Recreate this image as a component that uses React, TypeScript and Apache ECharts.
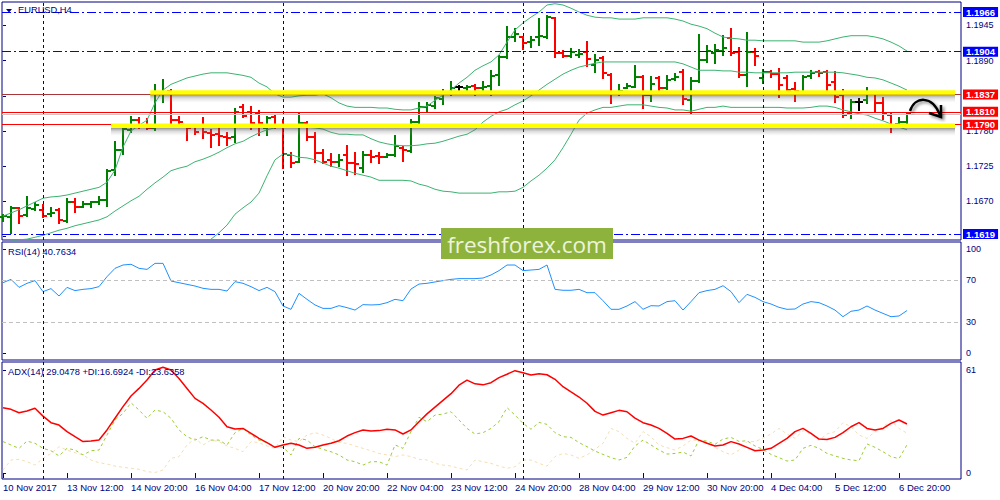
import React, { useEffect, useRef } from "react";
import * as echarts from "echarts";

// ---------- texts ----------
const SYMBOL_TITLE = "EURUSD,H4";
const RSI_TITLE = "RSI(14) 40.7634";
const ADX_TITLE = "ADX(14) 29.0478 +DI:16.6924 -DI:23.6358";
const WATERMARK = "freshforex.com";

// ---------- time axis (bar index -> label) ----------
const TIME_TICKS = [0, 8, 16, 24, 32, 40, 48, 56, 64, 72, 80, 88, 96, 104, 112];
const TIME_LABELS = [
  "10 Nov 2017", "13 Nov 12:00", "14 Nov 20:00", "16 Nov 04:00", "17 Nov 12:00",
  "20 Nov 20:00", "22 Nov 04:00", "23 Nov 12:00", "24 Nov 20:00", "28 Nov 04:00",
  "29 Nov 12:00", "30 Nov 20:00", "4 Dec 04:00", "5 Dec 12:00", "6 Dec 20:00",
];
const SEPARATORS = [5, 35, 65, 95];

// ---------- price bars (H4 OHLC) ----------
const OPEN = [
  1.16456, 1.16456, 1.16597, 1.16488, 1.16581, 1.16566, 1.16503, 1.16566, 1.16394, 1.16691,
  1.16613, 1.16660, 1.16691, 1.16722, 1.17191, 1.17504, 1.17816, 1.17972, 1.17894, 1.17847,
  1.18379, 1.18426, 1.17972, 1.17863, 1.17863, 1.17863, 1.17769, 1.17754, 1.17707, 1.17707,
  1.18175, 1.18097, 1.18082, 1.17847, 1.18019, 1.17894, 1.17426, 1.17316, 1.17925, 1.17707,
  1.17457, 1.17347, 1.17316, 1.17426, 1.17301, 1.17222, 1.17426, 1.17410, 1.17394, 1.17426,
  1.17535, 1.17488, 1.17941, 1.18175, 1.18191, 1.18301, 1.18394, 1.18488, 1.18473, 1.18504,
  1.18473, 1.18504, 1.18676, 1.18957, 1.19270, 1.19270, 1.19192, 1.19270, 1.19270, 1.19567,
  1.19020, 1.18973, 1.18988, 1.19035, 1.18832, 1.18942, 1.18676, 1.18394, 1.18473, 1.18488,
  1.18644, 1.18363, 1.18629, 1.18473, 1.18613, 1.18723, 1.18285, 1.18582, 1.18910, 1.19020,
  1.19051, 1.19254, 1.19035, 1.18676, 1.19035, 1.18629, 1.18723, 1.18691, 1.18629, 1.18457,
  1.18410, 1.18660, 1.18723, 1.18723, 1.18566, 1.18363, 1.18066, 1.18254, 1.18285, 1.18394,
  1.18238, 1.18050, 1.17910, 1.17941,
];
const HIGH = [
  1.16488, 1.16613, 1.16597, 1.16769, 1.16675, 1.16644, 1.16597, 1.16581, 1.16738, 1.16738,
  1.16691, 1.16691, 1.16769, 1.17191, 1.17629, 1.17847, 1.18019, 1.18004, 1.17988, 1.18519,
  1.18598, 1.18441, 1.18019, 1.17894, 1.17879, 1.18004, 1.17816, 1.17832, 1.17769, 1.18144,
  1.18207, 1.18175, 1.18113, 1.18019, 1.18050, 1.17972, 1.17457, 1.18082, 1.17941, 1.17769,
  1.17504, 1.17441, 1.17426, 1.17566, 1.17457, 1.17472, 1.17488, 1.17457, 1.17441, 1.17722,
  1.17550, 1.17972, 1.18238, 1.18238, 1.18332, 1.18441, 1.18566, 1.18504, 1.18504, 1.18519,
  1.18566, 1.18738, 1.18973, 1.19426, 1.19395, 1.19270, 1.19270, 1.19551, 1.19597, 1.19567,
  1.19051, 1.19082, 1.19067, 1.19192, 1.18988, 1.18957, 1.18691, 1.18519, 1.18535, 1.18816,
  1.18660, 1.18644, 1.18644, 1.18660, 1.18691, 1.18754, 1.18629, 1.19301, 1.19129, 1.19145,
  1.19285, 1.19395, 1.19098, 1.19332, 1.19082, 1.18754, 1.18738, 1.18770, 1.18660, 1.18551,
  1.18660, 1.18738, 1.18738, 1.18738, 1.18723, 1.18441, 1.18285, 1.18301, 1.18473, 1.18410,
  1.18316, 1.18066, 1.18004, 1.18082,
];
const LOW = [
  1.16394, 1.16206, 1.16362, 1.16472, 1.16566, 1.16456, 1.16472, 1.16362, 1.16378, 1.16535,
  1.16613, 1.16613, 1.16660, 1.16628, 1.17113, 1.17441, 1.17785, 1.17847, 1.17832, 1.17816,
  1.18254, 1.17894, 1.17863, 1.17660, 1.17754, 1.17691, 1.17550, 1.17582, 1.17582, 1.17629,
  1.18019, 1.17832, 1.17738, 1.17738, 1.17847, 1.17222, 1.17238, 1.17316, 1.17660, 1.17316,
  1.17301, 1.17254, 1.17254, 1.17113, 1.17128, 1.17160, 1.17316, 1.17301, 1.17394, 1.17410,
  1.17332, 1.17472, 1.17925, 1.18097, 1.18160, 1.18222, 1.18363, 1.18379, 1.18426, 1.18363,
  1.18410, 1.18363, 1.18519, 1.18942, 1.19207, 1.19082, 1.19113, 1.19145, 1.19254, 1.18957,
  1.18957, 1.18957, 1.18957, 1.18816, 1.18723, 1.18629, 1.18238, 1.18363, 1.18473, 1.18488,
  1.18160, 1.18269, 1.18426, 1.18457, 1.18598, 1.18222, 1.18082, 1.18566, 1.18879, 1.18863,
  1.18988, 1.18988, 1.18644, 1.18504, 1.18832, 1.18551, 1.18644, 1.18332, 1.18394, 1.18269,
  1.18394, 1.18629, 1.18660, 1.18394, 1.18254, 1.18019, 1.18004, 1.18129, 1.18238, 1.18097,
  1.17988, 1.17785, 1.17879, 1.17925,
];
const CLOSE = [
  1.16472, 1.16597, 1.16472, 1.16597, 1.16644, 1.16472, 1.16519, 1.16409, 1.16691, 1.16613,
  1.16660, 1.16691, 1.16722, 1.17175, 1.17504, 1.17832, 1.17972, 1.17863, 1.17847, 1.18394,
  1.18410, 1.17972, 1.17941, 1.17847, 1.17785, 1.17785, 1.17738, 1.17722, 1.17691, 1.18097,
  1.18035, 1.17925, 1.17925, 1.18004, 1.17894, 1.17441, 1.17301, 1.17925, 1.17707, 1.17457,
  1.17316, 1.17316, 1.17347, 1.17301, 1.17285, 1.17426, 1.17394, 1.17394, 1.17426, 1.17566,
  1.17504, 1.17941, 1.18175, 1.18207, 1.18316, 1.18410, 1.18473, 1.18488, 1.18488, 1.18473,
  1.18488, 1.18660, 1.18957, 1.19270, 1.19317, 1.19176, 1.19223, 1.19285, 1.19582, 1.19020,
  1.18973, 1.19035, 1.19004, 1.18926, 1.18910, 1.18707, 1.18410, 1.18426, 1.18504, 1.18644,
  1.18363, 1.18535, 1.18473, 1.18598, 1.18644, 1.18301, 1.18582, 1.18910, 1.19051, 1.19067,
  1.19098, 1.19020, 1.18676, 1.19035, 1.18973, 1.18723, 1.18691, 1.18519, 1.18441, 1.18426,
  1.18644, 1.18707, 1.18707, 1.18519, 1.18332, 1.18050, 1.18254, 1.18254, 1.18394, 1.18238,
  1.18066, 1.17894, 1.17941, 1.18066,
];

// ---------- Bollinger Bands ----------
const BB_UPPER = [
  1.1647, 1.1652, 1.1657, 1.1663, 1.1669, 1.1675, 1.1677, 1.1678, 1.1680, 1.1683,
  1.1686, 1.1689, 1.1692, 1.1700, 1.1719, 1.1755, 1.1780, 1.1789, 1.1797, 1.1824,
  1.1844, 1.1853, 1.1858, 1.1863, 1.1866, 1.1869, 1.1871, 1.1871, 1.1871, 1.1869,
  1.1867, 1.1864, 1.1855, 1.1849, 1.1838, 1.1833, 1.1833, 1.1835, 1.1836, 1.1836,
  1.1838, 1.1832, 1.1824, 1.1819, 1.1817, 1.1817, 1.1817, 1.1816, 1.1816, 1.1814,
  1.1813, 1.1813, 1.1816, 1.1819, 1.1828, 1.1836, 1.1844, 1.1855, 1.1864, 1.1875,
  1.1882, 1.1888, 1.1899, 1.1919, 1.1938, 1.1949, 1.1958, 1.1966, 1.1977, 1.1979,
  1.1977, 1.1972, 1.1966, 1.1961, 1.1958, 1.1957, 1.1957, 1.1955, 1.1955, 1.1955,
  1.1957, 1.1957, 1.1957, 1.1957, 1.1955, 1.1952, 1.1947, 1.1944, 1.1940, 1.1933,
  1.1927, 1.1925, 1.1924, 1.1922, 1.1922, 1.1921, 1.1921, 1.1921, 1.1921, 1.1921,
  1.1919, 1.1919, 1.1919, 1.1921, 1.1924, 1.1927, 1.1929, 1.1929, 1.1929, 1.1927,
  1.1924, 1.1919, 1.1913, 1.1905,
];
const BB_MIDDLE = [
  1.1605, 1.1608, 1.1610, 1.1611, 1.1614, 1.1617, 1.1621, 1.1625, 1.1628, 1.1632,
  1.1635, 1.1638, 1.1641, 1.1646, 1.1655, 1.1663, 1.1671, 1.1678, 1.1689, 1.1699,
  1.1708, 1.1718, 1.1722, 1.1725, 1.1732, 1.1736, 1.1741, 1.1747, 1.1754, 1.1760,
  1.1764, 1.1771, 1.1777, 1.1782, 1.1785, 1.1788, 1.1788, 1.1788, 1.1786, 1.1785,
  1.1783, 1.1778, 1.1775, 1.1775, 1.1774, 1.1774, 1.1768, 1.1763, 1.1760, 1.1758,
  1.1757, 1.1757, 1.1758, 1.1760, 1.1761, 1.1764, 1.1768, 1.1772, 1.1775, 1.1782,
  1.1794, 1.1803, 1.1810, 1.1814, 1.1821, 1.1827, 1.1835, 1.1844, 1.1853, 1.1861,
  1.1869, 1.1875, 1.1880, 1.1883, 1.1886, 1.1888, 1.1888, 1.1888, 1.1888, 1.1888,
  1.1888, 1.1888, 1.1888, 1.1888, 1.1888, 1.1885, 1.1880, 1.1875, 1.1875, 1.1875,
  1.1874, 1.1874, 1.1872, 1.1872, 1.1871, 1.1871, 1.1871, 1.1871, 1.1871, 1.1872,
  1.1872, 1.1872, 1.1872, 1.1872, 1.1872, 1.1871, 1.1869, 1.1867, 1.1864, 1.1863,
  1.1860, 1.1855, 1.1850, 1.1844,
];
const BB_LOWER = [
  null, null, null, null, null, null, null, null, null, null,
  null, null, null, null, null, null, null, null, null, null,
  null, null, null, null, 1.1591, 1.1600, 1.1611, 1.1621, 1.1633, 1.1650,
  1.1660, 1.1669, 1.1683, 1.1710, 1.1735, 1.1744, 1.1743, 1.1739, 1.1738, 1.1735,
  1.1730, 1.1725, 1.1722, 1.1718, 1.1714, 1.1711, 1.1708, 1.1703, 1.1703, 1.1703,
  1.1703, 1.1702, 1.1697, 1.1694, 1.1689, 1.1686, 1.1685, 1.1683, 1.1683, 1.1683,
  1.1683, 1.1683, 1.1685, 1.1685, 1.1686, 1.1692, 1.1702, 1.1711, 1.1722, 1.1735,
  1.1754, 1.1775, 1.1797, 1.1808, 1.1813, 1.1817, 1.1817, 1.1819, 1.1821, 1.1821,
  1.1821, 1.1819, 1.1817, 1.1816, 1.1813, 1.1813, 1.1811, 1.1814, 1.1817, 1.1817,
  1.1819, 1.1817, 1.1817, 1.1817, 1.1817, 1.1817, 1.1817, 1.1817, 1.1816, 1.1816,
  1.1816, 1.1817, 1.1819, 1.1819, 1.1817, 1.1813, 1.1810, 1.1807, 1.1805, 1.1800,
  1.1796, 1.1791, 1.1786, 1.1782,
];

// ---------- RSI(14) ----------
const RSI = [
  67.6, 70.8, 63.1, 67.0, 69.6, 59.0, 61.9, 54.8, 63.1, 60.0,
  61.2, 61.9, 63.8, 73.4, 81.4, 84.6, 85.3, 81.4, 80.4, 86.2,
  86.2, 69.2, 67.6, 66.0, 64.4, 62.2, 61.2, 61.2, 59.6, 68.6,
  67.0, 63.8, 60.0, 63.1, 59.0, 45.2, 42.0, 57.4, 51.6, 46.2,
  42.9, 42.9, 45.5, 43.6, 41.3, 46.5, 46.2, 46.5, 48.4, 51.6,
  50.3, 61.5, 66.3, 67.0, 68.3, 69.6, 70.8, 71.5, 71.5, 71.5,
  72.1, 75.0, 79.2, 84.6, 84.6, 79.2, 79.8, 80.4, 84.6, 61.2,
  60.3, 60.3, 61.2, 58.0, 58.0, 50.3, 42.0, 42.0, 45.2, 49.4,
  42.0, 45.5, 45.2, 49.4, 50.3, 41.3, 49.4, 58.0, 60.0, 61.2,
  64.7, 59.0, 48.4, 56.4, 53.5, 49.4, 47.1, 43.9, 42.0, 42.3,
  47.1, 49.4, 48.4, 45.2, 41.3, 34.9, 40.1, 41.3, 45.2, 41.3,
  38.1, 34.9, 35.6, 40.8,
];

// ---------- ADX(14) ----------
const ADX = [
  38.7, 37.7, 35.7, 36.7, 38.3, 33.7, 29.8, 28.4, 24.5, 21.5,
  18.6, 18.9, 19.5, 25.5, 32.4, 39.3, 45.6, 50.1, 55.1, 61.0,
  62.6, 61.0, 56.0, 50.1, 44.2, 41.2, 37.3, 33.0, 27.4, 26.1,
  26.4, 23.5, 20.5, 18.0, 15.2, 16.6, 17.6, 16.6, 14.6, 15.2,
  16.6, 17.6, 19.1, 21.9, 23.9, 25.5, 24.9, 25.1, 25.9, 25.5,
  23.1, 25.5, 30.4, 35.0, 39.0, 43.0, 47.0, 52.0, 55.0, 52.8,
  52.2, 53.5, 56.5, 58.5, 60.6, 59.4, 58.0, 58.8, 58.2, 55.5,
  51.1, 48.0, 45.0, 41.3, 36.5, 34.3, 35.7, 37.1, 36.3, 32.5,
  29.8, 28.4, 26.4, 23.5, 20.1, 20.5, 21.9, 19.5, 17.6, 16.0,
  16.6, 18.6, 17.2, 15.2, 13.2, 13.6, 14.6, 17.6, 20.5, 24.5,
  26.4, 23.5, 20.1, 19.9, 21.1, 23.9, 27.4, 29.8, 26.4, 25.5,
  26.4, 29.4, 31.4, 29.0,
];
const PLUS_DI = [
  18.6, 16.6, 14.6, 18.9, 17.6, 14.6, 13.2, 10.1, 14.6, 13.6,
  10.7, 13.2, 13.6, 22.5, 31.4, 35.3, 41.6, 37.3, 32.4, 37.3,
  36.3, 32.4, 25.5, 21.5, 19.5, 21.5, 19.5, 19.5, 16.6, 23.9,
  26.4, 22.5, 19.5, 18.0, 15.6, 15.2, 10.7, 20.5, 19.5, 15.6,
  14.0, 12.6, 10.7, 7.7, 6.7, 4.7, 6.7, 6.7, 4.7, 16.6,
  14.6, 24.5, 33.0, 30.4, 34.3, 34.9, 36.3, 31.4, 26.4, 23.1,
  23.9, 26.4, 30.4, 38.7, 34.3, 29.4, 25.9, 30.0, 28.8, 23.9,
  21.5, 21.1, 18.0, 15.6, 13.0, 11.0, 9.1, 7.7, 9.3, 16.0,
  19.5, 16.6, 13.6, 11.2, 11.6, 12.4, 10.1, 19.5, 18.9, 17.0,
  20.1, 21.1, 18.7, 19.1, 16.0, 14.0, 11.0, 9.1, 7.1, 7.7,
  14.6, 16.4, 14.6, 11.6, 10.1, 8.7, 7.7, 7.3, 17.2, 15.2,
  12.6, 9.7, 8.5, 16.7,
];
const MINUS_DI = [
  1.8, 7.7, 8.1, 6.7, 4.7, 8.7, 11.6, 15.6, 13.6, 12.0,
  10.7, 7.7, 6.1, 5.3, 4.1, 3.4, 2.8, 2.2, 0.8, 0.3,
  1.8, 8.7, 9.7, 16.6, 20.5, 16.6, 19.5, 18.6, 16.0, 14.6,
  12.6, 18.6, 18.0, 16.0, 14.6, 21.5, 19.5, 18.6, 22.5, 23.9,
  22.5, 20.5, 18.0, 17.6, 16.0, 14.6, 13.2, 11.6, 10.7, 9.7,
  10.7, 9.7, 8.1, 7.7, 5.7, 4.7, 4.1, 2.8, 1.8, 7.7,
  6.7, 5.7, 4.1, 2.8, 3.7, 7.7, 7.7, 5.7, 4.1, 9.7,
  11.6, 10.7, 8.7, 10.7, 14.0, 17.6, 26.4, 24.5, 20.5, 17.6,
  24.5, 21.5, 16.6, 15.0, 13.6, 16.0, 19.5, 19.5, 18.0, 15.2,
  12.6, 10.7, 13.6, 18.6, 18.6, 20.7, 23.1, 26.4, 23.1, 20.5,
  25.1, 23.1, 19.5, 23.1, 24.5, 29.8, 27.4, 22.5, 20.5, 24.5,
  27.4, 31.0, 26.4, 23.6,
];

// ---------- axes / levels ----------
const PRICE_TICKS = [1.1615, 1.167, 1.1725, 1.178, 1.1835, 1.189, 1.1945];
const PRICE_LABELS = [1.167, 1.1725, 1.178, 1.189, 1.1945]; // 1.1615 / 1.1835 hidden under level boxes
const RSI_TICKS = [0, 30, 70, 100];
const RSI_LEVELS = [30, 70];
const ADX_TICKS = [0, 61];
const BLUE_LEVELS = [1.1966, 1.1904, 1.1619];
const RED_LEVELS = [1.1837, 1.181, 1.179];
const BID_LEVEL = 1.1806;
const ZONE_PRICES = [1.184, 1.1788];
const ZONE_STARTS = [18.4, 13.5];
const ZONE_END = 119;

const PRICE_MIN = 1.16097;
const PRICE_MAX = 1.19817;
const RSI_MIN = -6.73;
const RSI_MAX = 106.73;
const ADX_MIN = -3.55;
const ADX_MAX = 65.74;
const X_MIN = -0.125;
const X_MAX = 119.75;

const NAVY = "#000080";
const FONT = "'Liberation Sans', Arial, sans-serif";

const pairs = (arr: (number | null)[]) =>
  arr.map((v, i) => [i, v]).filter((p) => p[1] !== null);

export default function App() {
  const ref = useRef<HTMLDivElement>(null);

  useEffect(() => {
    if (!ref.current) return;
    const chart = echarts.init(ref.current, undefined, { renderer: "svg" });

    const sepLine = {
      silent: true,
      symbol: ["none", "none"],
      precision: 6,
      label: { show: false },
      lineStyle: { color: NAVY, type: [3, 3], width: 1 },
      data: SEPARATORS.map((x) => ({ xAxis: x })),
    };

    const ohlcData = OPEN.map((o, i) => [i, o, HIGH[i], LOW[i], CLOSE[i]]);
    const closePairs = pairs(CLOSE);
    const zoneData = ZONE_PRICES.map((p, k) => [ZONE_STARTS[k], ZONE_END, p]);

    const boxLabel = (v: number, bg: string) => ({
      show: true,
      position: "end",
      distance: 2,
      formatter: v.toFixed(4),
      backgroundColor: bg,
      color: "#ffffff",
      fontFamily: FONT,
      fontSize: 9.5,
      fontWeight: "bold",
      lineHeight: 9,
      padding: [1, 3, 0, 3],
    });

    // invisible carrier series (close prices) that hold the drawn levels
    const carrier = (name: string, z: number, markLine: any) => ({
      type: "line",
      name,
      xAxisIndex: 0,
      yAxisIndex: 0,
      z,
      silent: true,
      data: closePairs,
      showSymbol: false,
      lineStyle: { opacity: 0 },
      markLine: { silent: true, symbol: ["none", "none"], precision: 6, ...markLine },
    });

    const xAxes = [0, 1, 2].map((g) => ({
      type: "value",
      gridIndex: g,
      min: X_MIN,
      max: X_MAX,
      axisLine: { show: false },
      splitLine: { show: false },
      axisTick: {
        show: g === 2,
        customValues: TIME_TICKS,
        length: 5,
        lineStyle: { color: NAVY },
      },
      axisLabel: {
        show: g === 2,
        customValues: TIME_TICKS,
        formatter: (v: number) => {
          const k = TIME_TICKS.indexOf(Math.round(v));
          return k >= 0 ? TIME_LABELS[k] : "";
        },
        align: "left",
        margin: 3,
        color: NAVY,
        fontSize: 9.5,
        fontFamily: FONT,
      },
    }));

    const yAxis = (
      g: number,
      min: number,
      max: number,
      ticks: number[],
      labels: number[],
      fmt: (v: number) => string,
    ) => ({
      type: "value",
      gridIndex: g,
      position: "right",
      min,
      max,
      axisLine: { show: false },
      splitLine: { show: false },
      axisTick: { show: true, customValues: ticks, length: 3, lineStyle: { color: NAVY } },
      axisLabel: {
        customValues: labels,
        formatter: fmt,
        margin: 5,
        color: NAVY,
        fontSize: 9,
        fontFamily: FONT,
      },
    });

    const option: any = {
      animation: false,
      backgroundColor: "#ffffff",
      grid: [
        { left: 2, top: 2, width: 959, height: 238, show: true, borderColor: NAVY, borderWidth: 1, backgroundColor: "#ffffff" },
        { left: 2, top: 242, width: 959, height: 118, show: true, borderColor: NAVY, borderWidth: 1, backgroundColor: "#ffffff" },
        { left: 2, top: 362, width: 959, height: 117, show: true, borderColor: NAVY, borderWidth: 1, backgroundColor: "#ffffff" },
      ],
      xAxis: xAxes,
      yAxis: [
        yAxis(0, PRICE_MIN, PRICE_MAX, PRICE_TICKS, PRICE_LABELS, (v) => v.toFixed(4)),
        yAxis(1, RSI_MIN, RSI_MAX, RSI_TICKS, RSI_TICKS, (v) => String(Math.round(v))),
        yAxis(2, ADX_MIN, ADX_MAX, ADX_TICKS, ADX_TICKS, (v) => String(Math.round(v))),
      ],
      series: [
        // OHLC bars
        {
          type: "custom",
          name: "EURUSD",
          xAxisIndex: 0,
          yAxisIndex: 0,
          z: 3,
          data: ohlcData,
          encode: { x: 0, y: [1, 2, 3, 4] },
          renderItem: (params: any, api: any) => {
            const x = api.value(0);
            const o = api.value(1);
            const h = api.value(2);
            const l = api.value(3);
            const c = api.value(4);
            const pH = api.coord([x, h]);
            const pL = api.coord([x, l]);
            const pO = api.coord([x, o]);
            const pC = api.coord([x, c]);
            const color = c > o ? "#008000" : c < o ? "#ff0000" : "#000000";
            const st = { stroke: color, lineWidth: 2 };
            return {
              type: "group",
              children: [
                { type: "line", shape: { x1: pH[0], y1: pH[1] - 1, x2: pL[0], y2: pL[1] + 1 }, style: st },
                { type: "line", shape: { x1: pO[0] - 4, y1: pO[1], x2: pO[0], y2: pO[1] }, style: st },
                { type: "line", shape: { x1: pC[0], y1: pC[1], x2: pC[0] + 4, y2: pC[1] }, style: st },
              ],
            };
          },
          markLine: sepLine,
        },
        // Bollinger bands
        ...[BB_UPPER, BB_MIDDLE, BB_LOWER].map((arr, k) => ({
          type: "line",
          name: ["BB upper", "BB middle", "BB lower"][k],
          xAxisIndex: 0,
          yAxisIndex: 0,
          z: 4,
          data: pairs(arr),
          showSymbol: false,
          clip: true,
          lineStyle: { color: "#3cb371", width: 1 },
        })),
        carrier("bid", 4, {
          label: { show: false },
          lineStyle: { color: "#c8c8c8", type: "solid", width: 1 },
          data: [{ yAxis: BID_LEVEL }],
        }),
        carrier("blue levels", 5, {
          lineStyle: { color: "#0000ff", type: [9, 3, 2, 3], width: 1 },
          data: BLUE_LEVELS.map((v) => ({
            yAxis: v,
            lineStyle: { color: "#0000ff", type: [9, 3, 2, 3], width: 1 },
            label: boxLabel(v, "#0000ff"),
          })),
        }),
        carrier("red levels", 5, {
          lineStyle: { color: "#ff0000", type: "solid", width: 1 },
          data: RED_LEVELS.map((v, k) => ({
            yAxis: v,
            lineStyle: { color: k === 0 ? "#a83838" : "#ff0000", type: "solid", width: 1 },
            label: boxLabel(v, "#ff0000"),
          })),
        }),
        // yellow highlighter zones with soft shadow underneath
        {
          type: "custom",
          name: "zones",
          xAxisIndex: 0,
          yAxisIndex: 0,
          z: 6,
          silent: true,
          data: zoneData,
          encode: { x: [0, 1], y: 2 },
          renderItem: (params: any, api: any) => {
            const a = api.coord([api.value(0), api.value(2)]);
            const b = api.coord([api.value(1), api.value(2)]);
            const w = b[0] - a[0];
            return {
              type: "group",
              children: [
                {
                  type: "rect",
                  shape: { x: a[0], y: a[1] + 2, width: w, height: 8 },
                  style: {
                    fill: new echarts.graphic.LinearGradient(0, 0, 0, 1, [
                      { offset: 0, color: "rgba(60,60,60,0.55)" },
                      { offset: 0.45, color: "rgba(120,120,120,0.25)" },
                      { offset: 1, color: "rgba(160,160,160,0)" },
                    ]),
                  },
                },
                {
                  type: "rect",
                  shape: { x: a[0], y: a[1] - 2.5, width: w, height: 4.5 },
                  style: { fill: "#ffff00" },
                },
              ],
            };
          },
        },
        carrier("red over zone", 7, {
          label: { show: false },
          lineStyle: { color: "#ff0000", type: "solid", width: 1 },
          data: [{ yAxis: RED_LEVELS[2] }],
        }),
        // RSI
        {
          type: "line",
          name: "RSI",
          xAxisIndex: 1,
          yAxisIndex: 1,
          data: pairs(RSI),
          showSymbol: false,
          lineStyle: { color: "#1e90ff", width: 1 },
          markLine: {
            silent: true,
            symbol: ["none", "none"],
            label: { show: false },
            data: [
              ...RSI_LEVELS.map((v) => ({ yAxis: v, lineStyle: { color: "#c0c0c0", type: [4, 3], width: 1 } })),
              ...SEPARATORS.map((x) => ({ xAxis: x, lineStyle: { color: NAVY, type: [3, 3], width: 1 } })),
            ],
          },
        },
        // ADX
        {
          type: "line",
          name: "ADX",
          xAxisIndex: 2,
          yAxisIndex: 2,
          z: 4,
          data: pairs(ADX),
          showSymbol: false,
          lineStyle: { color: "#ff0000", width: 1.5 },
          markLine: sepLine,
        },
        {
          type: "line",
          name: "+DI",
          xAxisIndex: 2,
          yAxisIndex: 2,
          z: 3,
          data: pairs(PLUS_DI),
          showSymbol: false,
          lineStyle: { color: "#9acd32", width: 1, type: [3, 3] },
        },
        {
          type: "line",
          name: "-DI",
          xAxisIndex: 2,
          yAxisIndex: 2,
          z: 2,
          data: pairs(MINUS_DI),
          showSymbol: false,
          lineStyle: { color: "#f5deb3", width: 1, type: [3, 3] },
        },
      ],
      graphic: [
        {
          type: "polygon",
          z: 20,
          shape: { points: [[6, 9], [12, 9], [9, 12.5]] },
          style: { fill: NAVY },
        },
        {
          type: "text",
          z: 20,
          x: 18,
          y: 10,
          style: { text: SYMBOL_TITLE, fill: NAVY, font: `9.3px ${FONT}`, verticalAlign: "middle" },
        },
        {
          type: "text",
          z: 20,
          x: 8,
          y: 252,
          style: { text: RSI_TITLE, fill: NAVY, font: `9.3px ${FONT}`, verticalAlign: "middle" },
        },
        {
          type: "text",
          z: 20,
          x: 8,
          y: 372,
          style: { text: ADX_TITLE, fill: NAVY, font: `9.3px ${FONT}`, verticalAlign: "middle" },
        },
        {
          type: "rect",
          z: 30,
          shape: { x: 441, y: 228, width: 172, height: 31 },
          style: { fill: "#8db33c" },
        },
        {
          type: "text",
          z: 31,
          x: 527,
          y: 244,
          style: {
            text: WATERMARK,
            fill: "#eef4dc",
            font: "22.5px 'Open Sans', sans-serif",
            align: "center",
            verticalAlign: "middle",
          },
        },
        {
          type: "bezierCurve",
          z: 25,
          shape: { x1: 910, y1: 111, cpx1: 915, cpy1: 96, cpx2: 932, cpy2: 95, x2: 940, y2: 115 },
          style: {
            stroke: "#000000",
            fill: null,
            lineWidth: 2.5,
            shadowColor: "rgba(0,0,0,0.45)",
            shadowBlur: 3,
            shadowOffsetX: 2,
            shadowOffsetY: 2,
          },
        },
        {
          type: "polyline",
          z: 25,
          shape: { points: [[929, 113], [941, 117], [941, 105]] },
          style: {
            stroke: "#000000",
            fill: null,
            lineWidth: 2.5,
            shadowColor: "rgba(0,0,0,0.45)",
            shadowBlur: 3,
            shadowOffsetX: 2,
            shadowOffsetY: 2,
          },
        },
      ],
    };

    chart.setOption(option);
    return () => chart.dispose();
  }, []);

  return (
    <div
      ref={ref}
      style={{ position: "fixed", left: 0, top: 0, width: 1000, height: 500, background: "#ffffff" }}
    />
  );
}
